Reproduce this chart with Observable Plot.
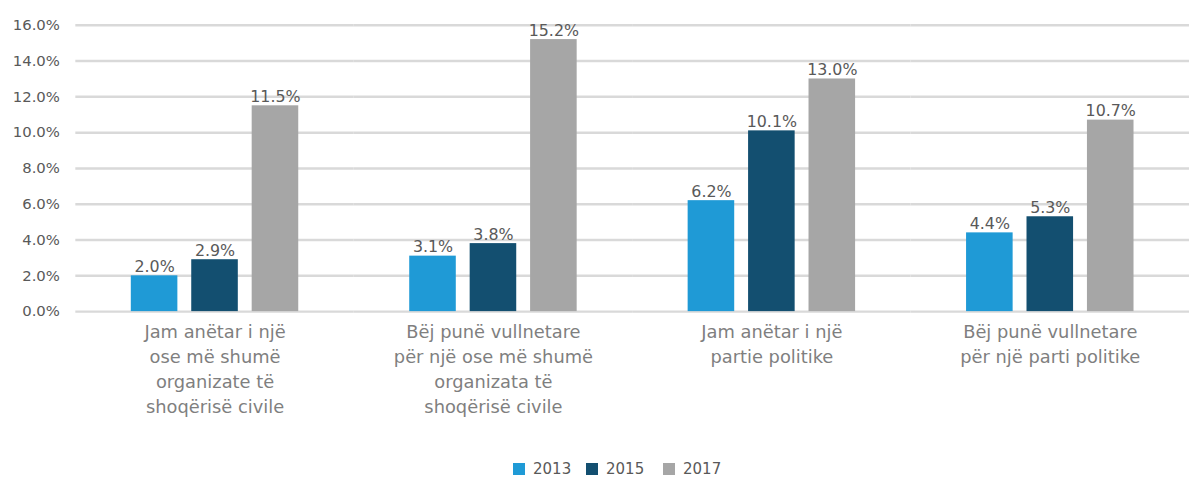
<!DOCTYPE html>
<html>
<head>
<meta charset="utf-8">
<script src="https://cdn.jsdelivr.net/npm/d3@7"></script>
<script src="https://cdn.jsdelivr.net/npm/@observablehq/plot@0.6"></script>
<style>
  html, body { margin: 0; padding: 0; background: #fff; overflow: hidden; width: 1190px; height: 482px; }
  #chart svg { display: block; }
  #legend { position: relative; height: 20px; margin-top: 5px; font-family: "DejaVu Sans", sans-serif; font-size: 15px; color: #595959; }
  #legend .item { position: absolute; top: 0; line-height: 20px; display: flex; align-items: center; }
  #legend .sw { width: 12px; height: 12px; margin-right: 8px; display: inline-block; }
</style>
</head>
<body>
<div id="chart"></div>
<div id="legend"></div>
<script>
const groups = [
  "Jam anëtar i një\nose më shumë\norganizate të\nshoqërisë civile",
  "Bëj punë vullnetare\npër një ose më shumë\norganizata të\nshoqërisë civile",
  "Jam anëtar i një\npartie politike",
  "Bëj punë vullnetare\npër një parti politike"
];
const years = ["2013", "2015", "2017"];
const v2013 = [2.0, 3.1, 6.2, 4.4];
const v2015 = [2.9, 3.8, 10.1, 5.3];
const v2017 = [11.5, 15.2, 13.0, 10.7];
const colors = ["#1f9ad6", "#134f70", "#a6a6a6"];
const yTicks = [0, 2, 4, 6, 8, 10, 12, 14, 16];

const series = [v2013, v2015, v2017];
const data = [];
groups.forEach((g, i) => years.forEach((y, j) => data.push({group: g, year: y, value: series[j][i]})));

const textColor = "#595959";
const chart = Plot.plot({
  width: 1201,
  height: 458,
  marginLeft: 75,
  marginRight: 0,
  marginTop: 25,
  marginBottom: 144,
  style: {fontFamily: "'DejaVu Sans', sans-serif", color: textColor, background: "#fff"},
  fx: {domain: groups, padding: 0, label: null},
  x: {domain: years, paddingInner: 0.226, paddingOuter: 0.883, axis: null},
  y: {domain: [0, 16], label: null},
  color: {domain: years, range: colors},
  marks: [
    Plot.ruleY(yTicks, {stroke: "#d9d9d9", strokeWidth: 2.5}),
    Plot.barY(data, {fx: "group", x: "year", y: "value", fill: "year"}),
    Plot.text(data, {fx: "group", x: "year", y: "value", text: d => d.value.toFixed(1) + "%",
      lineAnchor: "bottom", dy: -4, fontSize: 16, fill: textColor}),
    Plot.axisY({ticks: yTicks, tickFormat: d => d.toFixed(1) + "%", tickSize: 0, tickPadding: 16,
      fontSize: 15, fill: textColor, label: null}),
    Plot.axisFx({anchor: "bottom", tickSize: 0, tickPadding: 8, fontSize: 18, lineHeight: 1.42,
      fill: "#7f7f7f", label: null})
  ]
});
document.getElementById("chart").appendChild(chart);

const legend = document.getElementById("legend");
const lx = [513, 586, 663];
years.forEach((y, i) => {
  const it = document.createElement("div");
  it.className = "item";
  it.style.left = lx[i] + "px";
  it.innerHTML = `<span class="sw" style="background:${colors[i]}"></span><span>${y}</span>`;
  legend.appendChild(it);
});
</script>
</body>
</html>
